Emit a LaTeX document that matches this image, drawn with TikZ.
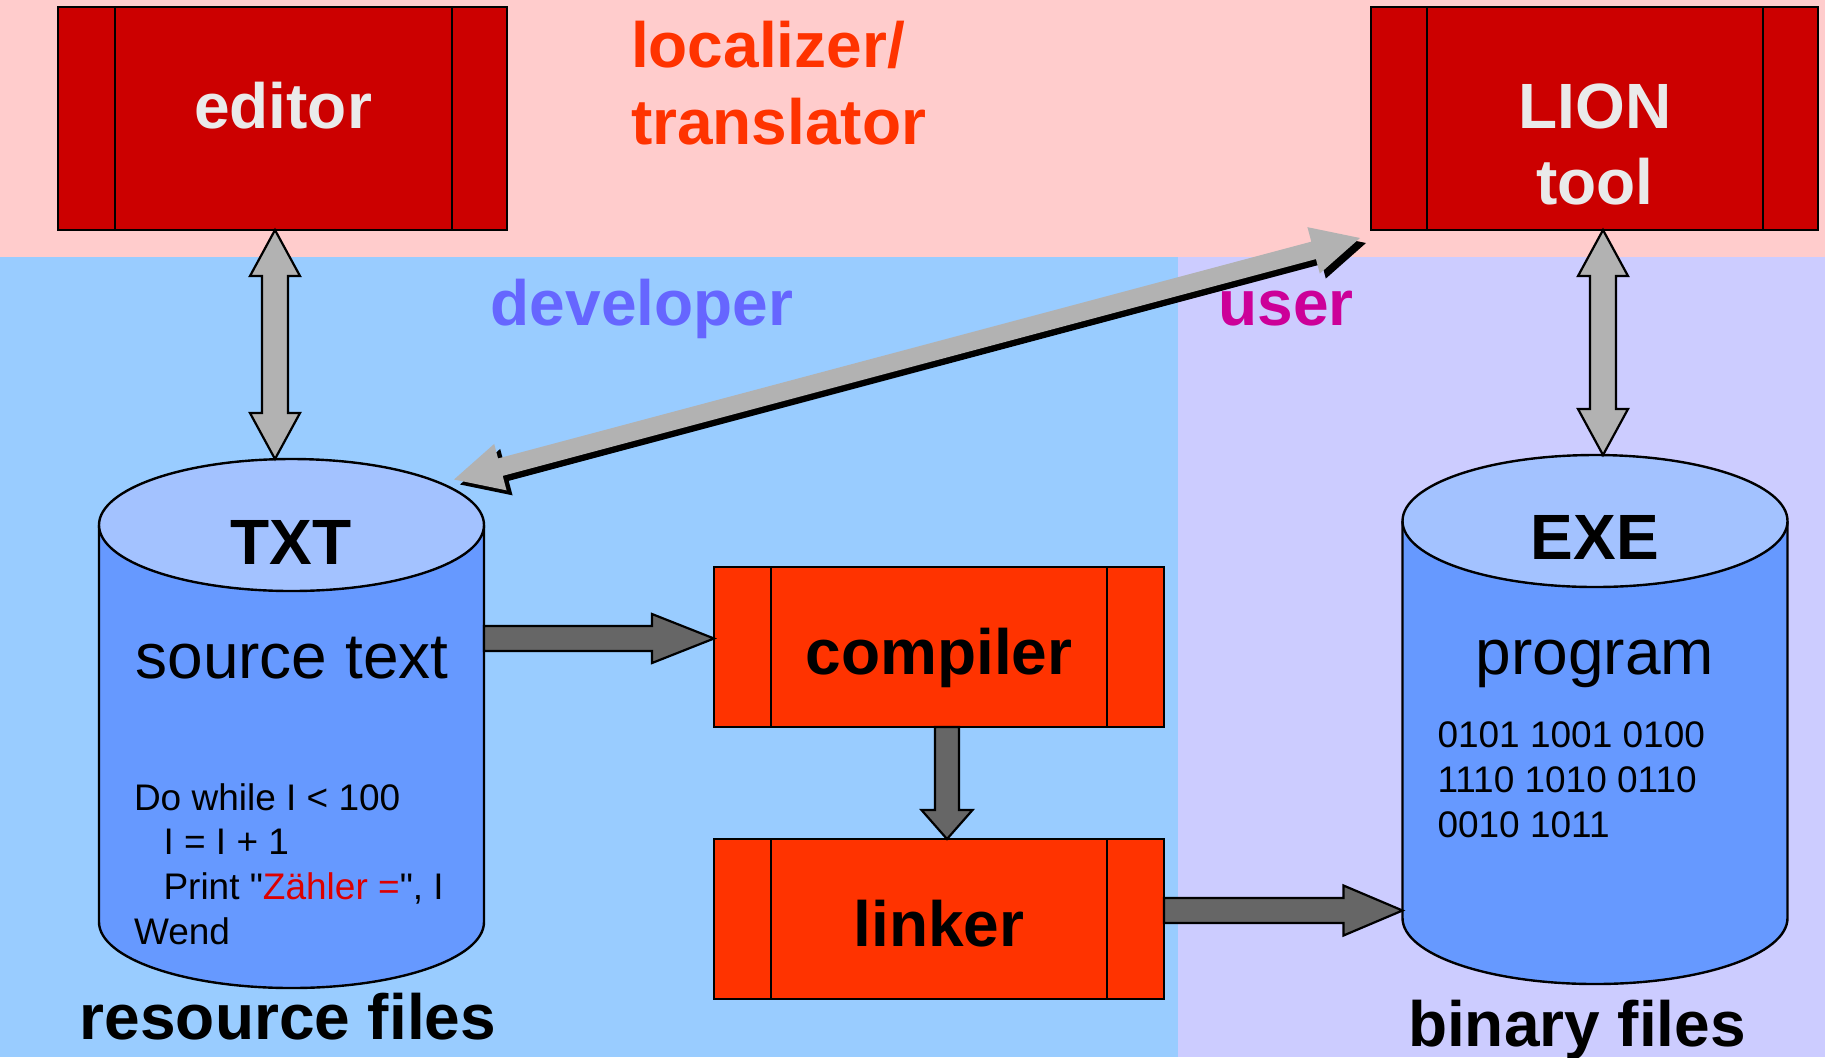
\documentclass[tikz,border=0pt]{standalone}
\usepackage{fontspec}
\setmainfont{Liberation Sans}
\newfontfamily\codefam{Liberation Sans}
\usetikzlibrary{calc}
\definecolor{bgpink}{HTML}{FFCCCC}
\definecolor{bgblue}{HTML}{99CCFF}
\definecolor{bglav}{HTML}{CCCCFF}
\definecolor{boxred}{HTML}{CC0000}
\definecolor{boxorange}{HTML}{FF3300}
\definecolor{arrgray}{HTML}{B2B2B2}
\definecolor{arrdark}{HTML}{666666}
\definecolor{cylbody}{HTML}{6699FF}
\definecolor{cyltop}{HTML}{A3C2FF}
\definecolor{devcol}{HTML}{6666FF}
\definecolor{usercol}{HTML}{CC0099}
\definecolor{loccol}{HTML}{FF3300}
\definecolor{boxtext}{HTML}{EAEAEA}
\definecolor{codered}{HTML}{DD0000}
\tikzset{
  bigbold/.style={font=\fontsize{32}{38}\selectfont\bfseries},
  bigreg/.style={font=\fontsize{32}{38}\selectfont},
  codefont/.style={font=\codefam\fontsize{18.5}{22}\selectfont},
  lbl/.style={inner sep=0pt, outer sep=0pt},
  procbox/.style={draw=black, line width=1.2pt, inner sep=0pt, outer sep=0pt},
  cylbox/.style={inner sep=0pt, outer sep=0pt, minimum width=192.5pt, minimum height=264.5pt},
  cylline/.style={draw=black, line width=1.2pt},
  lightarrow/.style={fill=arrgray, draw=black, line width=1.1pt},
  darkarrow/.style={fill=arrdark, draw=black, line width=1.1pt},
}
% single block arrow: #1 style, #2 start, #3 tip, #4 half shaft, #5 half head, #6 head length
\newcommand\blkarrow[6]{%
  \path #2 coordinate (ba-a) #3 coordinate (ba-b);
  \coordinate (ba-h) at ($(ba-b)!#6!(ba-a)$);
  \path[#1] ($(ba-a)!#4!90:(ba-b)$) -- ($(ba-h)!#4!90:(ba-b)$) -- ($(ba-h)!#5!90:(ba-b)$)
    -- (ba-b) -- ($(ba-h)!#5!-90:(ba-b)$) -- ($(ba-h)!#4!-90:(ba-b)$)
    -- ($(ba-a)!#4!-90:(ba-b)$) -- cycle;}
% double block arrow
\newcommand\dblarrow[6]{%
  \path #2 coordinate (da-a) #3 coordinate (da-b);
  \coordinate (da-h1) at ($(da-a)!#6!(da-b)$);
  \coordinate (da-h2) at ($(da-b)!#6!(da-a)$);
  \path[#1] (da-a) -- ($(da-h1)!#5!90:(da-b)$) -- ($(da-h1)!#4!90:(da-b)$)
    -- ($(da-h2)!#4!90:(da-b)$) -- ($(da-h2)!#5!90:(da-b)$) -- (da-b)
    -- ($(da-h2)!#5!-90:(da-b)$) -- ($(da-h2)!#4!-90:(da-b)$)
    -- ($(da-h1)!#4!-90:(da-b)$) -- ($(da-h1)!#5!-90:(da-b)$) -- cycle;}
\newcommand\sidebars[3]{\draw[line width=0.9pt] ([xshift=#2]#1.north west) -- ([xshift=#2]#1.south west)
  ([xshift=-#3]#1.north east) -- ([xshift=-#3]#1.south east);}
\begin{document}
\begin{tikzpicture}[x=0.5pt, y=-0.5pt]
\useasboundingbox (0,0) rectangle (1825,1057);
% backgrounds
\fill[bgpink] (0,0) rectangle (1825,257);
\fill[bgblue] (0,257) rectangle (1178,1057);
\fill[bglav] (1178,257) rectangle (1825,1057);
% process boxes
\node[procbox, fill=boxred, minimum width=224.5pt, minimum height=111.5pt] (editor) at (282.5,118.5) {};
\sidebars{editor}{28.5pt}{27.5pt}
\node[procbox, fill=boxred, minimum width=223.5pt, minimum height=111.5pt] (lion) at (1594.5,118.5) {};
\sidebars{lion}{28pt}{27.5pt}
\node[procbox, fill=boxorange, minimum width=225pt, minimum height=80pt] (compiler) at (939,647) {};
\sidebars{compiler}{28.5pt}{28.5pt}
\node[procbox, fill=boxorange, minimum width=225pt, minimum height=80pt] (linker) at (939,919) {};
\sidebars{linker}{28.5pt}{28.5pt}
% cylinders
\node[cylbox] (txt) at (291.5,723.5) {};
\fill[cylbody] (99,525) -- (99,922) arc[start angle=180, end angle=360, x radius=96.25pt, y radius=33pt] -- (484,525) -- cycle;
\draw[cylline] (99,525) -- (99,922) arc[start angle=180, end angle=360, x radius=96.25pt, y radius=33pt] -- (484,525);
\filldraw[cylline, fill=cyltop] (291.5,525) ellipse[x radius=96.25pt, y radius=33pt];
\node[cylbox] (exe) at (1595,719.5) {};
\fill[cylbody] (1402.5,521) -- (1402.5,918) arc[start angle=180, end angle=360, x radius=96.25pt, y radius=33pt] -- (1787.5,521) -- cycle;
\draw[cylline] (1402.5,521) -- (1402.5,918) arc[start angle=180, end angle=360, x radius=96.25pt, y radius=33pt] -- (1787.5,521);
\filldraw[cylline, fill=cyltop] (1595,521) ellipse[x radius=96.25pt, y radius=33pt];
% texts
\node[lbl, bigbold, text=boxtext, anchor=base] (t-editor) at (283,128) {editor};
\node[lbl, bigbold, text=boxtext, anchor=base] (t-lion) at (1595,128) {LION};
\node[lbl, bigbold, text=boxtext, anchor=base] (t-tool) at (1595,204) {tool};
\node[lbl, bigbold, anchor=base] (t-comp) at (939,674) {compiler};
\node[lbl, bigbold, anchor=base] (t-link) at (939,946) {linker};
\node[lbl, bigbold, text=loccol, anchor=base west] (t-loc) at (631,67) {localizer/};
\node[lbl, bigbold, text=loccol, anchor=base west] (t-trans) at (631,144) {translator};
\node[lbl, bigbold, text=devcol, anchor=base] (t-dev) at (642,325) {developer};
\node[lbl, bigbold, text=usercol, anchor=base] (t-user) at (1286,325) {user};
\node[lbl, bigbold, anchor=base] (t-txt) at (291,564) {TXT};
\node[lbl, bigreg, anchor=base] (t-src) at (292,678) {source text};
\node[lbl, codefont, anchor=base west] (code1) at (134,810) {Do while I < 100};
\node[lbl, codefont, anchor=base west] (code2) at (163.5,854) {I = I + 1};
\node[lbl, codefont, anchor=base west] (code3) at (163.5,899.5) {Print "\textcolor{codered}{Zähler =}", I};
\node[lbl, codefont, anchor=base west] (code4) at (134,944) {Wend};
\node[lbl, bigbold, anchor=base] (t-exe) at (1595,559) {EXE};
\node[lbl, bigreg, anchor=base] (t-prog) at (1595,674) {program};
\node[lbl, codefont, anchor=base west] (bin1) at (1437.5,747) {0101 1001 0100};
\node[lbl, codefont, anchor=base west] (bin2) at (1437.5,792) {1110 1010 0110};
\node[lbl, codefont, anchor=base west] (bin3) at (1437.5,837) {0010 1011};
\node[lbl, bigbold, anchor=base] (t-res) at (288,1039) {resource files};
\node[lbl, bigbold, anchor=base] (t-bin) at (1577,1046) {binary files};
% connectors
\coordinate (e-out) at ([xshift=-3.75pt]editor.south);
\coordinate (t-in) at (e-out |- txt.north);
\dblarrow{lightarrow}{(e-out)}{(t-in)}{6.5pt}{12.5pt}{23pt}
\coordinate (l-out) at ([xshift=4.25pt]lion.south);
\coordinate (x-in) at (l-out |- exe.north);
\dblarrow{lightarrow}{(l-out)}{(x-in)}{6.5pt}{12.5pt}{23pt}
\coordinate (d1) at ([shift={(-15pt,-10.25pt)}]txt.north east);
\coordinate (d2) at ([shift={(-5.5pt,-4pt)}]lion.south west);
\coordinate (d1s) at ([shift={(3pt,-2.5pt)}]d1);
\coordinate (d2s) at ([shift={(3pt,-2.5pt)}]d2);
\dblarrow{fill=black}{(d1s)}{(d2s)}{4.5pt}{12pt}{24pt}
\dblarrow{fill=arrgray}{(d1)}{(d2)}{4.5pt}{12pt}{24pt}
\coordinate (c-in) at ([yshift=4.25pt]compiler.west);
\coordinate (t-out) at (txt.east |- c-in);
\blkarrow{darkarrow}{(t-out)}{(c-in)}{6.25pt}{12.25pt}{31pt}
\coordinate (cm-out) at ([xshift=4pt]compiler.south);
\coordinate (lk-in) at ([xshift=4pt]linker.north);
\blkarrow{darkarrow}{(cm-out)}{(lk-in)}{6pt}{12.75pt}{14.5pt}
\coordinate (lk-out) at ([yshift=4.25pt]linker.east);
\coordinate (x-in2) at (exe.west |- lk-out);
\blkarrow{darkarrow}{(lk-out)}{(x-in2)}{6.25pt}{12.5pt}{29.5pt}
\end{tikzpicture}
\end{document}
